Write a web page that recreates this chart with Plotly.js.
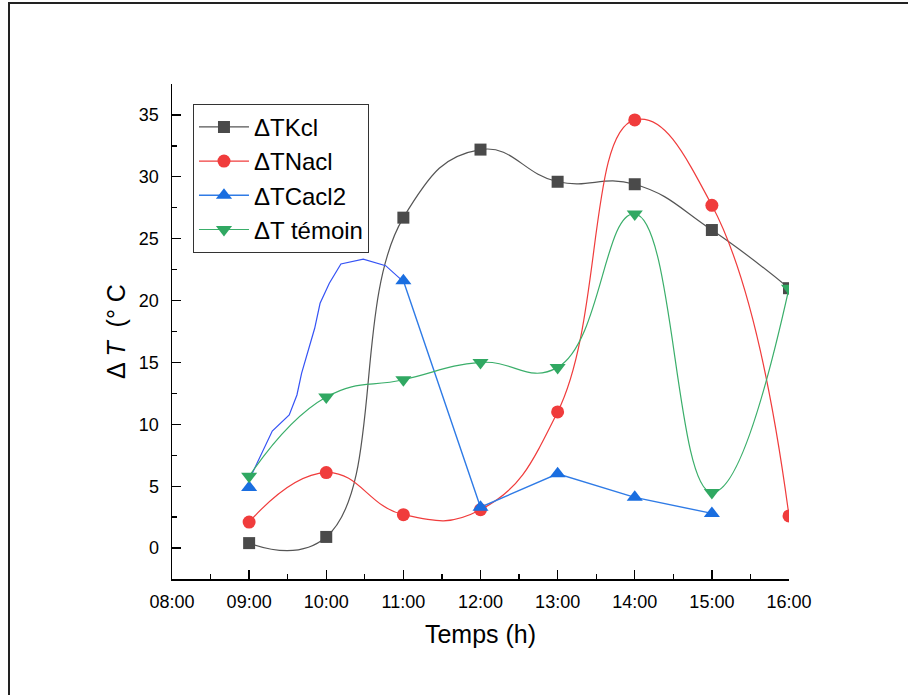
<!DOCTYPE html>
<html>
<head>
<meta charset="utf-8">
<script src="https://cdn.plot.ly/plotly-3.0.1.min.js"></script>
<style>html,body{margin:0;padding:0;background:#fff;}#chart{width:908px;height:695px;}</style>
</head>
<body>
<div id="chart"></div>
<script>
// Time in hours
var hours = [9, 10, 11, 12, 13, 14, 15, 16];
var kcl = [0.4, 0.9, 26.7, 32.2, 29.6, 29.4, 25.7, 21.0];
var nacl = [2.1, 6.1, 2.7, 3.1, 11.0, 34.6, 27.7, 2.6];
var temoin = [5.8, 12.2, 13.6, 15.0, 14.6, 27.0, 4.5, 21.0];
// CaCl2 measured points (gap between 09:00 and 11:00 drawn by separate path)
var cacl2Hours = [9, 9.5, 11, 12, 13, 14, 15];
var cacl2 = [4.9, null, 21.6, 3.3, 6.0, 4.1, 2.8];
// CaCl2 curve between 09:00 and 11:00
var cacl2PathHours = [9.0, 9.30, 9.52, 9.62, 9.68, 9.77, 9.85, 9.92, 10.04, 10.19, 10.48, 10.77, 11.0];
var cacl2PathVals = [5.5, 9.46, 10.75, 12.37, 14.12, 16.0, 17.76, 19.78, 21.4, 22.96, 23.34, 22.82, 21.53];

var tickVals = [8, 9, 10, 11, 12, 13, 14, 15, 16];
var tickText = ["08:00", "09:00", "10:00", "11:00", "12:00", "13:00", "14:00", "15:00", "16:00"];

var legendFont = {family: "Liberation Sans, Arial, sans-serif", size: 24, color: "#000"};

var traces = [
  {x: hours, y: kcl, name: "ΔTKcl", type: "scatter", mode: "lines+markers",
   line: {shape: "spline", smoothing: 1.3, color: "#555555", width: 1.2},
   marker: {symbol: "square", size: 12, color: "#4a4a4a"}},
  {x: hours, y: nacl, name: "ΔTNacl", type: "scatter", mode: "lines+markers",
   line: {shape: "spline", smoothing: 1.3, color: "#f03c3c", width: 1.2},
   marker: {symbol: "circle", size: 13, color: "#f03c3c"}},
  {x: cacl2PathHours, y: cacl2PathVals, name: "path", showlegend: false, type: "scatter", mode: "lines",
   line: {color: "#3553f5", width: 1.2}, hoverinfo: "skip"},
  {x: cacl2Hours, y: cacl2, name: "ΔTCacl2", type: "scatter", mode: "lines+markers",
   connectgaps: false,
   line: {color: "#2f7be6", width: 1.4},
   marker: {symbol: "triangle-up", size: 14, color: "#1a6ee0"}},
  {x: hours, y: temoin, name: "ΔT témoin", type: "scatter", mode: "lines+markers",
   line: {shape: "spline", smoothing: 1.3, color: "#3aae6a", width: 1.2},
   marker: {symbol: "triangle-down", size: 14, color: "#30a862"}}
];

var layout = {
  width: 908, height: 695,
  margin: {l: 172, r: 119, t: 84, b: 116},
  paper_bgcolor: "#fff", plot_bgcolor: "#fff",
  font: {family: "Liberation Sans, Arial, sans-serif", color: "#000"},
  showlegend: true,
  legend: {x: 0.034, y: 0.96, xanchor: "left", yanchor: "top",
    bgcolor: "#fff", bordercolor: "#333", borderwidth: 1,
    font: legendFont, tracegroupgap: 0, itemwidth: 50},
  xaxis: {
    range: [8, 16], tickmode: "array", tickvals: tickVals, ticktext: tickText,
    showgrid: false, zeroline: false, showline: true, linecolor: "#000", linewidth: 1.5,
    ticks: "inside", ticklen: 9, tickwidth: 1.3, tickcolor: "#000",
    minor: {dtick: 0.5, tick0: 8, ticks: "inside", ticklen: 5, tickwidth: 1.3, tickcolor: "#000", showgrid: false},
    tickfont: {size: 18, color: "#000"}, ticklabelstandoff: 6,
    title: {text: "Temps (h)", font: {size: 25, color: "#000"}, standoff: 14}
  },
  yaxis: {
    range: [-2.5, 37.5], tickmode: "linear", tick0: 0, dtick: 5,
    showgrid: false, zeroline: false, showline: true, linecolor: "#000", linewidth: 1.5,
    ticks: "inside", ticklen: 9, tickwidth: 1.3, tickcolor: "#000",
    minor: {dtick: 2.5, tick0: 0, ticks: "inside", ticklen: 5, tickwidth: 1.3, tickcolor: "#000", showgrid: false},
    tickfont: {size: 18, color: "#000"}, ticklabelstandoff: 8,
    title: {text: "Δ <i>T</i>  (° C", font: {size: 25, color: "#000"}, standoff: 6}
  },
  shapes: [
    {type: "rect", xref: "paper", yref: "paper",
     x0: (9 - 172) / 617, x1: 1.4, y0: -0.4, y1: (579 - 3) / 495,
     line: {color: "#222", width: 2}, fillcolor: "rgba(0,0,0,0)", layer: "below"}
  ]
};

Plotly.newPlot("chart", traces, layout, {displayModeBar: false, staticPlot: true});
</script>
</body>
</html>
